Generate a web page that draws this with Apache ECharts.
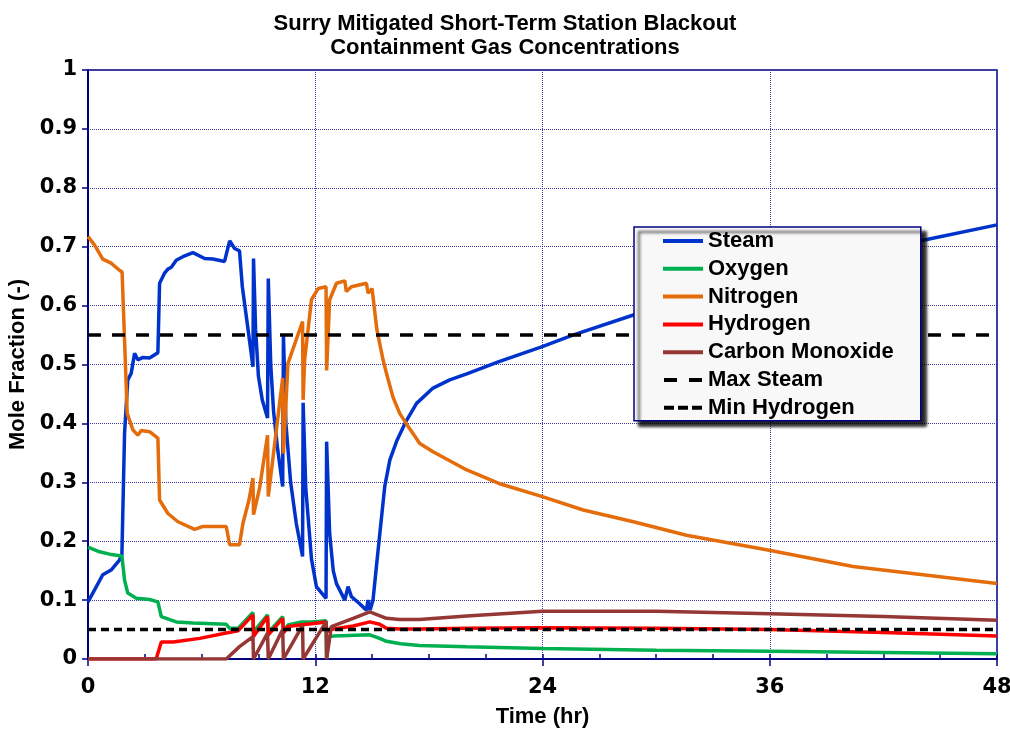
<!DOCTYPE html>
<html>
<head>
<meta charset="utf-8">
<title>Surry Mitigated Short-Term Station Blackout</title>
<script src="https://cdn.jsdelivr.net/npm/echarts@6/dist/echarts.min.js"></script>
<style>
  html, body { margin: 0; padding: 0; background: #fff; }
  #chart { width: 1010px; height: 732px; }
</style>
</head>
<body>
<div id="chart"></div>
<script>
// time (hr) and mole fraction
var steamT = [0, 0.34, 0.78, 1.22, 1.66, 1.79, 1.93, 2.1, 2.28, 2.46, 2.63, 2.9, 3.25, 3.69, 3.78, 4.04, 4.22, 4.4, 4.66, 5.01, 5.54, 6.16, 6.6, 7.21, 7.48, 7.74, 8.0, 8.15, 8.45, 8.71, 8.74, 8.85, 9.0, 9.2, 9.48, 9.52, 9.65, 9.8, 10.0, 10.28, 10.32, 10.45, 10.7, 11.0, 11.33, 11.36, 11.5, 11.8, 12.06, 12.57, 12.6, 12.76, 12.95, 13.12, 13.56, 13.73, 13.91, 14.3, 14.7, 14.79, 14.9, 15.05, 15.23, 15.41, 15.67, 15.94, 16.3, 16.8, 17.35, 18.22, 19.1, 20, 21.7, 23.95, 25.6, 28.8, 32, 36, 40, 44.1, 48];
var steamV = [0.097, 0.117, 0.143, 0.151, 0.168, 0.177, 0.383, 0.474, 0.485, 0.519, 0.508, 0.512, 0.511, 0.52, 0.638, 0.655, 0.662, 0.665, 0.677, 0.683, 0.69, 0.68, 0.679, 0.675, 0.71, 0.697, 0.693, 0.632, 0.56, 0.496, 0.68, 0.56, 0.48, 0.44, 0.409, 0.646, 0.5, 0.42, 0.36, 0.293, 0.55, 0.4, 0.3, 0.23, 0.174, 0.435, 0.29, 0.17, 0.123, 0.103, 0.369, 0.213, 0.15, 0.128, 0.1, 0.123, 0.106, 0.095, 0.083, 0.1, 0.083, 0.1, 0.157, 0.213, 0.293, 0.338, 0.37, 0.404, 0.434, 0.46, 0.474, 0.484, 0.505, 0.53, 0.55, 0.584, 0.618, 0.655, 0.686, 0.711, 0.737];

var oxygenT = [0, 0.61, 1.14, 1.79, 1.93, 2.1, 2.55, 3.25, 3.69, 3.87, 4.66, 5.54, 7.3, 7.48, 7.92, 8.71, 8.74, 9.48, 9.52, 10.28, 10.32, 10.56, 11.27, 11.8, 12.57, 12.6, 12.7, 13.0, 14.88, 15.4, 15.76, 16.5, 17.5, 20, 24, 30, 36, 42, 48];
var oxygenV = [0.19, 0.182, 0.178, 0.175, 0.134, 0.112, 0.103, 0.101, 0.097, 0.072, 0.063, 0.061, 0.059, 0.052, 0.052, 0.079, 0.046, 0.075, 0.045, 0.072, 0.046, 0.058, 0.063, 0.063, 0.065, 0, 0.038, 0.039, 0.041, 0.035, 0.03, 0.026, 0.023, 0.021, 0.018, 0.015, 0.013, 0.011, 0.009];

var nitrogenT = [0, 0.34, 0.78, 1.22, 1.66, 1.8, 2.07, 2.37, 2.63, 2.81, 3.25, 3.69, 3.78, 4.22, 4.75, 5.63, 6.07, 7.3, 7.48, 8.0, 8.18, 8.5, 8.71, 8.74, 9.06, 9.48, 9.52, 10.28, 10.32, 10.56, 11.33, 11.36, 11.44, 11.8, 12.15, 12.57, 12.6, 12.76, 13.12, 13.56, 13.64, 13.91, 14.7, 14.79, 15.0, 15.25, 15.58, 15.76, 16.1, 16.46, 16.8, 17.52, 18.22, 20, 21.7, 23.95, 26.15, 28.8, 31.6, 35.9, 40.4, 48];
var nitrogenV = [0.717, 0.703, 0.679, 0.672, 0.66, 0.657, 0.417, 0.389, 0.38, 0.388, 0.386, 0.375, 0.27, 0.247, 0.233, 0.22, 0.225, 0.225, 0.194, 0.194, 0.23, 0.27, 0.307, 0.245, 0.29, 0.38, 0.276, 0.477, 0.349, 0.502, 0.573, 0.44, 0.508, 0.61, 0.629, 0.632, 0.49, 0.61, 0.638, 0.642, 0.624, 0.632, 0.638, 0.621, 0.629, 0.56, 0.508, 0.485, 0.445, 0.417, 0.4, 0.366, 0.352, 0.321, 0.298, 0.276, 0.253, 0.233, 0.21, 0.185, 0.157, 0.128];

var hydrogenT = [0, 3.6, 3.69, 3.87, 4.5, 5.9, 7.3, 7.92, 8.71, 8.74, 9.48, 9.52, 10.28, 10.32, 10.56, 11.27, 11.8, 12.57, 12.6, 12.8, 14.0, 14.88, 15.4, 15.76, 16.5, 17.5, 20, 24, 30, 36, 42, 48];
var hydrogenV = [0, 0, 0.002, 0.029, 0.029, 0.035, 0.044, 0.048, 0.075, 0.038, 0.072, 0.041, 0.069, 0.044, 0.055, 0.058, 0.06, 0.063, 0.046, 0.05, 0.056, 0.063, 0.059, 0.052, 0.051, 0.051, 0.052, 0.053, 0.052, 0.05, 0.045, 0.039];

var coT = [0, 7.3, 8.0, 8.71, 8.74, 9.48, 9.52, 10.28, 10.32, 11.33, 11.36, 12.57, 12.6, 12.85, 14.0, 14.88, 15.76, 16.46, 17.5, 20, 24, 30, 36, 42, 48];
var coV = [0, 0, 0.021, 0.038, 0, 0.044, 0, 0.05, 0, 0.057, 0, 0.063, 0, 0.055, 0.069, 0.08, 0.069, 0.067, 0.067, 0.073, 0.081, 0.081, 0.077, 0.072, 0.066];

var maxSteamT = [0, 48];
var maxSteamV = [0.55, 0.55];
var minHydrogenT = [0, 48];
var minHydrogenV = [0.05, 0.05];

var xTicks = [0, 12, 24, 36, 48];
var legendNames = ["Steam", "Oxygen", "Nitrogen", "Hydrogen", "Carbon Monoxide", "Max Steam", "Min Hydrogen"];

function pairs(t, v) {
  var out = [];
  for (var i = 0; i < t.length; i++) out.push([t[i], v[i]]);
  return out;
}

var FONT = "'Liberation Sans', Arial, sans-serif";
var TICK_FONT = "'DejaVu Sans', 'Liberation Sans', sans-serif";
var NAVY = "#000080";

function gasLine(name, color, t, v) {
  return {
    name: name,
    type: "line",
    data: pairs(t, v),
    symbol: "none",
    animation: false,
    lineStyle: { color: color, width: 3.5 },
    itemStyle: { color: color }
  };
}

function refLine(name, t, v, dash) {
  return {
    name: name,
    type: "line",
    data: pairs(t, v),
    symbol: "none",
    animation: false,
    lineStyle: { color: "#000", width: 3.5, type: dash },
    itemStyle: { color: "#000" }
  };
}

// legend samples: plain bars for the gases, dashes for the two limits
var icons = {
  "Max Steam": "path://M0,0h13v4h-13z M25,0h13v4h-13z",
  "Min Hydrogen": "path://M0,0h10v4h-10z M14,0h10v4h-10z M28,0h10v4h-10z"
};

var chart = echarts.init(document.getElementById("chart"));
chart.setOption({
  backgroundColor: "#fff",
  animation: false,
  title: {
    text: "Surry Mitigated Short-Term Station Blackout\nContainment Gas Concentrations",
    left: "center",
    top: 7,
    textStyle: { fontFamily: FONT, fontSize: 22, fontWeight: "bold", color: "#000", lineHeight: 24 }
  },
  grid: {
    left: 88, right: 13, top: 70, bottom: 73,
    outerBoundsMode: "none",
    containLabel: false,
    show: true, borderColor: NAVY, borderWidth: 1.5, backgroundColor: "#fff"
  },
  legend: {
    orient: "vertical",
    left: 634,
    top: 227,
    padding: [3, 27, 2, 29],
    itemWidth: 40,
    itemHeight: 4,
    itemGap: 5.8,
    backgroundColor: "#f8f8f8",
    borderColor: NAVY,
    borderWidth: 1.5,
    shadowColor: "rgba(0,0,0,0.85)",
    shadowBlur: 3,
    shadowOffsetX: 5,
    shadowOffsetY: 5,
    textStyle: { fontFamily: FONT, fontSize: 22, fontWeight: "bold", color: "#000", lineHeight: 22 },
    data: legendNames.map(function (n) {
      return { name: n, icon: icons[n] || "rect" };
    })
  },
  xAxis: [
    {
      type: "value",
      min: 0, max: 48, interval: 12,
      name: "Time (hr)",
      nameLocation: "middle",
      nameGap: 47,
      nameTextStyle: { fontFamily: FONT, fontSize: 22, fontWeight: "bold", color: "#000" },
      axisLine: { show: true, lineStyle: { color: NAVY, width: 2 } },
      axisTick: { show: true, inside: false, length: 7, lineStyle: { color: NAVY, width: 1.5 } },
      axisLabel: {
        margin: 18, fontFamily: TICK_FONT, fontSize: 21, fontWeight: "bold", color: "#000",
        formatter: function (v) { return xTicks.indexOf(v) >= 0 ? String(v) : ""; }
      },
      splitLine: { show: true, lineStyle: { color: "#3a3aa8", width: 1, type: "dotted" } }
    },
    {
      type: "value",
      min: 0, max: 48, interval: 3,
      position: "bottom",
      axisLine: { show: false },
      axisTick: { show: true, inside: true, length: 5, lineStyle: { color: NAVY, width: 1.5 } },
      axisLabel: { show: false },
      splitLine: { show: false }
    }
  ],
  yAxis: {
    type: "value",
    min: 0, max: 1, interval: 0.1,
    name: "Mole Fraction (-)",
    nameLocation: "middle",
    nameGap: 54,
    nameTextStyle: { fontFamily: FONT, fontSize: 22, fontWeight: "bold", color: "#000" },
    axisLine: { show: true, lineStyle: { color: NAVY, width: 2 } },
    axisTick: { show: true, inside: false, length: 6, lineStyle: { color: NAVY, width: 1.5 } },
    axisLabel: {
      margin: 11, fontFamily: TICK_FONT, fontSize: 21, fontWeight: "bold", color: "#000",
      formatter: function (v) { return String(Math.round(v * 10) / 10); }
    },
    splitLine: { show: true, lineStyle: { color: "#3a3aa8", width: 1, type: "dotted" } }
  },
  series: [
    gasLine("Steam", "#0033cc", steamT, steamV),
    gasLine("Oxygen", "#00b050", oxygenT, oxygenV),
    gasLine("Nitrogen", "#e46c0a", nitrogenT, nitrogenV),
    gasLine("Hydrogen", "#ff0000", hydrogenT, hydrogenV),
    gasLine("Carbon Monoxide", "#953735", coT, coV),
    refLine("Max Steam", maxSteamT, maxSteamV, [13, 11]),
    refLine("Min Hydrogen", minHydrogenT, minHydrogenV, [8, 5])
  ]
});
</script>
</body>
</html>
